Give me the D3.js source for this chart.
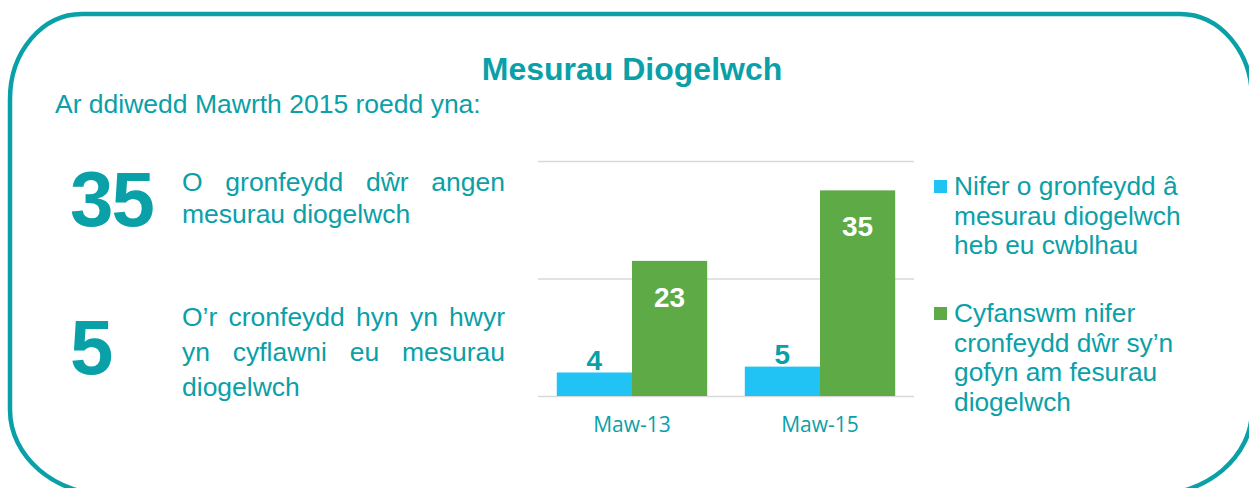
<!DOCTYPE html>
<html>
<head>
<meta charset="utf-8">
<script src="https://cdn.jsdelivr.net/npm/d3@7"></script>
<style>
  body { margin: 0; background: #fff; }
  svg { display: block; font-family: "Liberation Sans", Arial, sans-serif; }
</style>
</head>
<body>
<svg id="chart" width="1249" height="488"></svg>
<script>
// data
const categories = ["Maw-13", "Maw-15"];
const seriesNames = [
  ["Nifer o gronfeydd â", "mesurau diogelwch", "heb eu cwblhau"],
  ["Cyfanswm nifer", "cronfeydd dŵr sy’n", "gofyn am fesurau", "diogelwch"]
];
const notCompleted = [4, 5];
const totalNeeding = [23, 35];
const yTicks = [0, 20, 40];

const teal = "#0aa0a8",
  blue = "#20c3f3",
  green = "#5daa46";

const svg = d3.select("#chart");

// rounded frame (bottom corners are wider than top ones)
const L = 10, T = 14, R = 1252, B = 495;
const frame = d3.path();
frame.moveTo(L + 72, T);
frame.lineTo(R - 72, T);
frame.bezierCurveTo(R - 72 + 40, T, R, T + 85 - 47, R, T + 85);
frame.lineTo(R, B - 85);
frame.bezierCurveTo(R, B - 85 + 47, R - 100 + 55, B, R - 100, B);
frame.lineTo(L + 100, B);
frame.bezierCurveTo(L + 100 - 55, B, L, B - 85 + 47, L, B - 85);
frame.lineTo(L, T + 85);
frame.bezierCurveTo(L, T + 85 - 47, L + 72 - 40, T, L + 72, T);
svg.append("path")
  .attr("d", frame.toString())
  .attr("fill", "none")
  .attr("stroke", teal)
  .attr("stroke-width", 4.5);

svg.append("text")
  .attr("x", 632).attr("y", 80)
  .attr("text-anchor", "middle")
  .attr("font-size", 32)
  .attr("font-weight", "bold")
  .attr("fill", teal)
  .text("Mesurau Diogelwch");

svg.append("text")
  .attr("x", 55).attr("y", 113)
  .attr("font-size", 26.5)
  .attr("fill", teal)
  .text("Ar ddiwedd Mawrth 2015 roedd yna:");

// big numbers + justified paragraphs
const facts = [
  { num: totalNeeding[1], y: 226, lines: ["O gronfeydd dŵr angen", "mesurau diogelwch"], y0: 191, lh: 32 },
  { num: notCompleted[1], y: 374, lines: ["O’r cronfeydd hyn yn hwyr", "yn cyflawni eu mesurau", "diogelwch"], y0: 326, lh: 35 }
];

function justify(g, line, x0, x1, y, last) {
  const words = line.split(" ");
  const t = g.append("text").attr("y", y).attr("font-size", 26.5).attr("fill", teal);
  const spans = words.map(w => t.append("tspan").attr("y", y).text(w));
  const widths = spans.map(s => s.node().getComputedTextLength());
  const total = d3.sum(widths);
  const gap = last ? 26.5 * 0.278 : (x1 - x0 - total) / (words.length - 1);
  let x = x0;
  spans.forEach((s, i) => { s.attr("x", x); x += widths[i] + gap; });
}

for (const f of facts) {
  svg.append("text")
    .attr("x", 70).attr("y", f.y)
    .attr("font-size", 78)
    .attr("font-weight", "bold")
    .attr("fill", teal)
    .attr("letter-spacing", -2)
    .text(f.num);
  const g = svg.append("g");
  f.lines.forEach((l, i) => justify(g, l, 182, 505, f.y0 + i * f.lh, i === f.lines.length - 1));
}

// bar chart
const x0 = d3.scaleBand().domain(categories).range([538, 914]).paddingInner(0.2).paddingOuter(0.1);
const x1 = d3.scaleBand().domain([0, 1]).range([0, x0.bandwidth()]);
const y = d3.scaleLinear().domain([0, 40]).range([396, 161]);

svg.append("g")
  .attr("transform", "translate(538,0)")
  .call(d3.axisLeft(y).tickValues(yTicks).tickSize(-376).tickFormat(""))
  .call(g => g.select(".domain").remove())
  .call(g => g.selectAll("line").attr("stroke", "#d9d9d9").attr("stroke-width", 1.5));

const rows = categories.map((c, i) => ({ c, vals: [notCompleted[i], totalNeeding[i]] }));
const grp = svg.append("g").selectAll("g").data(rows).join("g")
  .attr("transform", d => `translate(${x0(d.c)},0)`);

grp.selectAll("rect").data(d => d.vals).join("rect")
  .attr("x", (d, i) => x1(i))
  .attr("y", d => y(d))
  .attr("width", x1.bandwidth())
  .attr("height", d => y(0) - y(d))
  .attr("fill", (d, i) => i === 0 ? blue : green);

grp.selectAll("text.val").data(d => d.vals).join("text")
  .attr("class", "val")
  .attr("x", (d, i) => x1(i) + x1.bandwidth() / 2)
  .attr("y", (d, i) => i === 0 ? y(d) - 3 : y(d) + 46)
  .attr("text-anchor", "middle")
  .attr("font-size", 28)
  .attr("font-weight", "bold")
  .attr("fill", (d, i) => i === 0 ? teal : "#fff")
  .text(d => d);

svg.append("g")
  .attr("transform", "translate(0,396)")
  .call(d3.axisBottom(x0).tickSize(0).tickPadding(21))
  .call(g => g.select(".domain").remove())
  .call(g => g.selectAll("text")
    .attr("font-family", "'Open Sans', sans-serif")
    .attr("font-size", 21)
    .attr("fill", teal));

// legend
const legendY = [195, 322];
seriesNames.forEach((lines, i) => {
  const lg = svg.append("g");
  lg.append("rect")
    .attr("x", 934).attr("y", legendY[i] - 15)
    .attr("width", 13).attr("height", 13)
    .attr("fill", i === 0 ? blue : green);
  lg.append("text")
    .attr("font-size", 26.3)
    .attr("fill", teal)
    .selectAll("tspan").data(lines).join("tspan")
    .attr("x", 954)
    .attr("y", (d, j) => legendY[i] + j * 29.5)
    .text(d => d);
});
</script>
</body>
</html>
